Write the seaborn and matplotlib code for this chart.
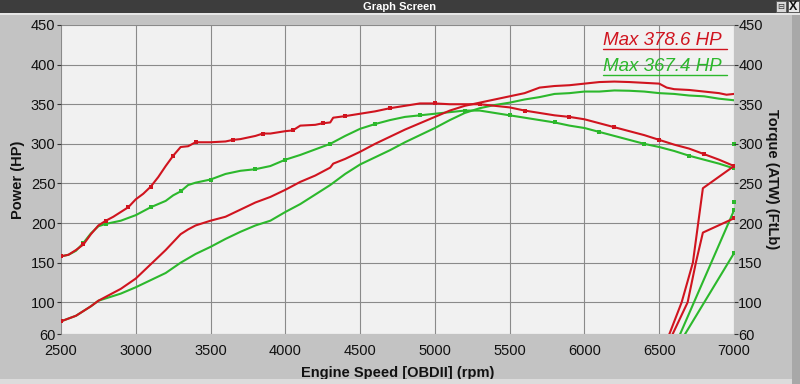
import matplotlib
matplotlib.use("Agg")
import matplotlib.pyplot as plt
import seaborn as sns
import pandas as pd
from matplotlib.lines import Line2D
from matplotlib.patches import Rectangle

# ---------------- data ----------------
red_torque_rpm = [2500, 2550, 2600, 2650, 2700, 2750, 2800, 2850, 2900, 2950, 3000, 3050, 3100, 3150,
                  3200, 3250, 3300, 3350, 3400, 3500, 3600, 3650, 3700, 3800, 3850, 3900, 4000, 4050,
                  4100, 4200, 4250, 4300, 4320, 4400, 4500, 4600, 4700, 4800, 4900, 5000, 5100, 5200,
                  5300, 5400, 5500, 5600, 5700, 5800, 5900, 6000, 6100, 6200, 6300, 6400, 6500, 6600,
                  6700, 6800, 6900, 7000]
red_torque = [158, 160, 166, 173, 186, 197, 203, 208, 214, 220, 230, 237, 246, 258,
              272, 285, 296, 297, 302, 302, 303, 305, 306, 310, 313, 313, 316, 317,
              323, 324, 326, 327, 333, 335, 338, 341, 345, 348, 351, 351, 350, 350,
              350, 348, 346, 342, 339, 336, 334, 331, 326, 321, 316, 311, 305, 299,
              294, 287, 280, 272]

green_torque_rpm = [2500, 2550, 2600, 2650, 2700, 2750, 2800, 2900, 3000, 3100, 3200, 3250, 3300, 3350,
                    3400, 3500, 3600, 3700, 3800, 3850, 3900, 4000, 4100, 4200, 4300, 4400, 4500, 4600,
                    4700, 4800, 4900, 5000, 5100, 5200, 5300, 5400, 5500, 5600, 5700, 5800, 5900, 6000,
                    6100, 6200, 6300, 6400, 6500, 6600, 6700, 6800, 6900, 7000]
green_torque = [158, 160, 165, 175, 187, 196, 199, 203, 210, 220, 228, 235, 240, 248,
                251, 255, 262, 266, 268, 270, 272, 280, 286, 293, 300, 310, 319, 325,
                330, 334, 336, 338, 340, 342, 342, 339, 336, 333, 330, 327, 323, 320,
                315, 310, 305, 300, 296, 291, 285, 280, 275, 269]

red_power_rpm = [2500, 2600, 2700, 2750, 2800, 2900, 3000, 3100, 3200, 3300, 3350, 3400, 3500, 3600,
                 3700, 3800, 3900, 4000, 4100, 4200, 4300, 4320, 4400, 4500, 4600, 4700, 4800, 4900,
                 5000, 5100, 5200, 5300, 5400, 5500, 5600, 5700, 5800, 5900, 6000, 6100, 6200, 6300,
                 6400, 6500, 6550, 6600, 6700, 6800, 6900, 6950, 7000]
red_power = [76, 83, 95, 102, 107, 117, 130, 148, 166, 186, 192, 197, 203, 208,
             217, 226, 233, 242, 252, 260, 270, 275, 281, 290, 300, 309, 318, 326,
             334, 342, 348, 352, 356, 360, 364, 371, 373, 374, 376, 378, 378.6, 378,
             377, 376, 371, 369, 368, 366, 364, 362, 363]

green_power_rpm = [2500, 2600, 2700, 2750, 2800, 2900, 3000, 3100, 3200, 3300, 3400, 3500, 3600, 3700,
                   3800, 3900, 4000, 4100, 4200, 4300, 4400, 4500, 4600, 4700, 4800, 4900, 5000, 5100,
                   5200, 5300, 5400, 5500, 5600, 5700, 5800, 5900, 6000, 6100, 6200, 6300, 6400, 6500,
                   6600, 6700, 6800, 6900, 7000]
green_power = [76, 83, 95, 102, 105, 111, 119, 128, 137, 150, 161, 170, 180, 189,
               197, 203, 214, 224, 236, 248, 262, 274, 283, 292, 302, 311, 320, 330,
               339, 345, 349, 352, 356, 359, 363, 364, 366, 366, 367.4, 367, 366, 364,
               363, 361, 360, 357, 355]

# coast-down traces at the right end
red_decel_a_rpm = [7000, 6792, 6725, 6650, 6568, 6555]
red_decel_a = [272, 244, 150, 100, 60, 55]
red_decel_b_rpm = [7000, 6792, 6745, 6690, 6590, 6580]
red_decel_b = [206, 188, 150, 100, 60, 55]
green_decel_a_rpm = [7000, 6640, 6628]
green_decel_a = [216, 60, 55]
green_decel_b_rpm = [7000, 6673, 6657]
green_decel_b = [162, 60, 55]
green_edge_rpm = [7000, 7000]
green_edge = [300, 226]

x_ticks = [2500, 3000, 3500, 4000, 4500, 5000, 5500, 6000, 6500, 7000]
y_ticks = [60, 100, 150, 200, 250, 300, 350, 400, 450]
legend_labels = ["Max 378.6 HP", "Max 367.4 HP"]

RED = "#d0141f"
GREEN = "#2cb82c"
FRAME = "#c3c3c3"
PLOT_BG = "#f1f1f1"

sns.set_theme(style="white")
plt.rcParams["font.family"] = ["Liberation Sans", "DejaVu Sans"]

fig = plt.figure(figsize=(8, 3.84), dpi=100)
fig.patch.set_facecolor(FRAME)

# title bar
fig.add_artist(Rectangle((0, 1 - 13 / 384), 1, 13 / 384, transform=fig.transFigure,
                         facecolor="#3d3d3d", edgecolor="none"))
fig.add_artist(Rectangle((0, 1 - 15 / 384), 1, 2 / 384, transform=fig.transFigure,
                         facecolor="#e6e6e6", edgecolor="none"))
fig.text(0.5, 1 - 6.5 / 384, "Graph Screen", color="white", fontsize=8, fontweight="bold",
         ha="center", va="center")
fig.add_artist(Rectangle((776 / 800, 1 - 12 / 384), 10 / 800, 11 / 384, transform=fig.transFigure,
                         facecolor="#d8d8d8", edgecolor="#555555", lw=0.6))
fig.add_artist(Rectangle((788 / 800, 1 - 12 / 384), 11 / 800, 11 / 384, transform=fig.transFigure,
                         facecolor="#e8e8e8", edgecolor="#555555", lw=0.6))
fig.text(781 / 800, 1 - 6.5 / 384, "⊟", fontsize=6, ha="center", va="center", color="#333333",
         family=["DejaVu Sans"])
fig.text(793.5 / 800, 1 - 6.5 / 384, "X", fontsize=9, fontweight="bold", ha="center", va="center",
         color="#111111")
# bottom light strip and right edge strip
fig.add_artist(Rectangle((0, 0), 1, 5 / 384, transform=fig.transFigure,
                         facecolor="#dcdcdc", edgecolor="none"))
fig.add_artist(Rectangle((792 / 800, 0), 8 / 800, 1 - 15 / 384, transform=fig.transFigure,
                         facecolor="#a8a8a8", edgecolor="none"))

ax = fig.add_axes([61 / 800, 1 - 334 / 384, (734 - 61) / 800, (334 - 25) / 384])
ax.set_facecolor(PLOT_BG)

def draw(rpm, vals, color, markevery=2, marker="s"):
    df = pd.DataFrame({"rpm": rpm, "val": vals})
    sns.lineplot(data=df, x="rpm", y="val", ax=ax, color=color, lw=1.5, sort=False,
                 estimator=None, marker=marker, markersize=2.6, markeredgewidth=0,
                 markevery=markevery, label=None)

draw(green_torque_rpm, green_torque, GREEN, markevery=3)
draw(green_power_rpm, green_power, GREEN, markevery=100)
draw(red_torque_rpm, red_torque, RED, markevery=3)
draw(red_power_rpm, red_power, RED, markevery=100)
draw(green_decel_a_rpm, green_decel_a, GREEN, markevery=100)
draw(green_decel_b_rpm, green_decel_b, GREEN, markevery=100)
draw(red_decel_a_rpm, red_decel_a, RED, markevery=100)
draw(red_decel_b_rpm, red_decel_b, RED, markevery=100)
sns.scatterplot(x=green_edge_rpm, y=green_edge, ax=ax, color=GREEN, s=8, marker="s",
                linewidth=0, clip_on=False, zorder=5)

ax.set_xlim(2500, 7000)
ax.set_ylim(60, 450)
ax.set_xticks(x_ticks)
ax.set_yticks(y_ticks)
ax.grid(True, color="#8a8a8a", lw=0.8)
for s in ax.spines.values():
    s.set_visible(False)
ax.tick_params(axis="both", direction="out", length=3, width=0.8, color="#333333",
               labelsize=10.5, labelcolor="#111111", pad=1)
ax.tick_params(axis="x", length=0, pad=7)
ax.set_xlabel("Engine Speed [OBDII] (rpm)", fontsize=10.5, fontweight="bold", color="#111111",
              labelpad=6)
ax.set_ylabel("Power (HP)", fontsize=10.5, fontweight="bold", color="#111111", labelpad=4)
if ax.get_legend():
    ax.get_legend().remove()

ax2 = ax.twinx()
ax2.set_ylim(60, 450)
ax2.set_yticks(y_ticks)
for s in ax2.spines.values():
    s.set_visible(False)
ax2.tick_params(axis="y", direction="out", length=3, width=0.8, color="#333333",
                labelsize=10.5, labelcolor="#111111", pad=0)
ax2.set_ylabel("Torque (ATW) (FtLb)", fontsize=10.5, fontweight="bold", color="#111111",
               rotation=270, labelpad=12)

# max labels
for i, (lab, col) in enumerate(zip(legend_labels, [RED, GREEN])):
    yc = 1 - (40.5 + 26 * i) / 384
    fig.text(603 / 800, yc, lab, color=col, fontsize=13.5, style="italic",
             ha="left", va="center")
    yu = 1 - (48.5 + 26 * i) / 384
    fig.add_artist(Line2D([603 / 800, 727 / 800], [yu, yu], transform=fig.transFigure,
                          color=col, lw=1.0))

fig.savefig("out.png", dpi=100, facecolor=fig.get_facecolor())
